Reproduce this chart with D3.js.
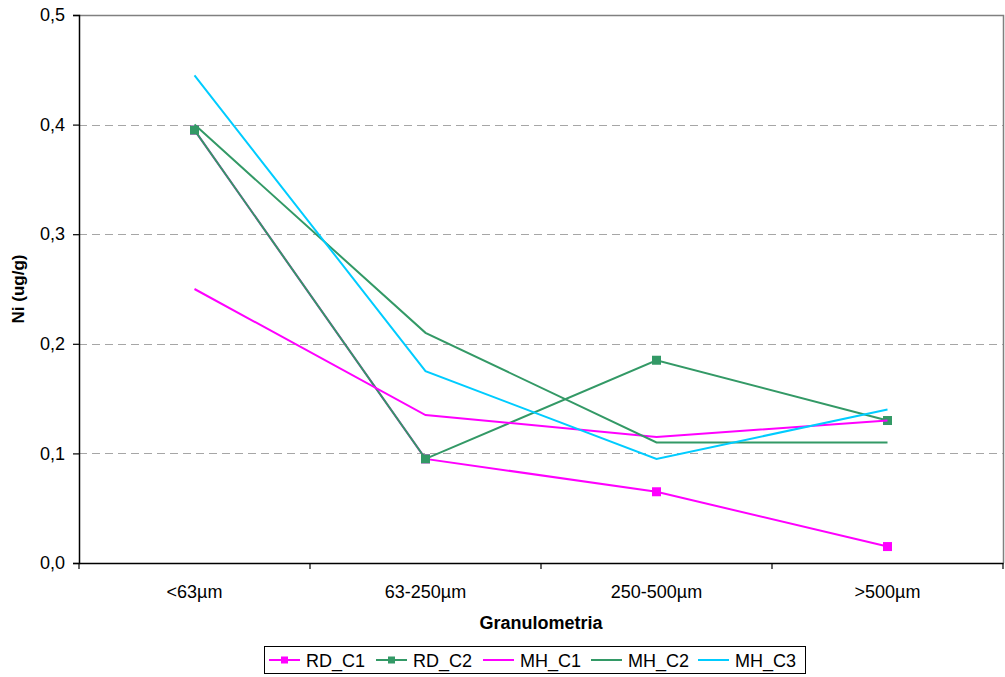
<!DOCTYPE html>
<html>
<head>
<meta charset="utf-8">
<script src="https://cdn.jsdelivr.net/npm/d3@7"></script>
<style>
  html, body { margin: 0; padding: 0; background: #fff; }
  svg { display: block; font-family: "Liberation Sans", Arial, sans-serif; }
</style>
</head>
<body>
<svg id="chart" width="1005" height="677"></svg>
<script>
const categories = ["<63µm", "63-250µm", "250-500µm", ">500µm"];
const yTicks = [0, 0.1, 0.2, 0.3, 0.4, 0.5];
const seriesNames = ["RD_C1", "RD_C2", "MH_C1", "MH_C2", "MH_C3"];
const seriesColors = ["#ff00ff", "#339966", "#ff00ff", "#339966", "#00ccff"];
const seriesMarkers = [true, true, false, false, false];
const RD_C1 = [0.395, 0.095, 0.065, 0.015];
const RD_C2 = [0.395, 0.095, 0.185, 0.13];
const MH_C1 = [0.25, 0.135, 0.115, 0.13];
const MH_C2 = [0.40, 0.21, 0.11, 0.11];
const MH_C3 = [0.445, 0.175, 0.095, 0.14];
const seriesValues = [RD_C1, RD_C2, MH_C1, MH_C2, MH_C3];

const svg = d3.select("#chart");
const L = 79, T = 15, R = 1003, B = 563;

const x = d3.scaleBand().domain(categories).range([L, R]).padding(0);
const y = d3.scaleLinear().domain([0, 0.5]).range([B, T]);
const cx = d => x(d) + x.bandwidth() / 2;

// gridlines
svg.append("g").selectAll("line")
  .data(yTicks.filter(t => t > 0 && t < 0.5))
  .join("line")
  .attr("x1", L).attr("x2", R)
  .attr("y1", d => Math.round(y(d)) + 0.5).attr("y2", d => Math.round(y(d)) + 0.5)
  .attr("stroke", "#a6a6a6").attr("stroke-width", 1)
  .attr("stroke-dasharray", "8,5");

// plot border top/right
svg.append("path")
  .attr("d", `M${L},${T + 0.5}H${R + 0.5}V${B}`)
  .attr("fill", "none").attr("stroke", "#808080").attr("stroke-width", 1.5);

// y axis
const yAxis = d3.axisLeft(y).tickValues(yTicks).tickSize(6).tickPadding(8)
  .tickFormat(d => d3.format(".1f")(d).replace(".", ","));
const gy = svg.append("g").attr("transform", `translate(${L},0)`).call(yAxis);
gy.select(".domain").attr("stroke", "#000").attr("stroke-width", 1.5);
gy.selectAll(".tick line").attr("stroke", "#000").attr("stroke-width", 1.2);
gy.selectAll(".tick text").attr("font-size", 18).attr("fill", "#000")
  .attr("font-family", "'Liberation Sans', Arial, sans-serif");

// x axis
const xAxis = d3.axisBottom(x).tickSize(0).tickPadding(22);
const gx = svg.append("g").attr("transform", `translate(0,${B})`).call(xAxis);
gx.select(".domain").attr("stroke", "#000").attr("stroke-width", 1.5);
gx.selectAll(".tick text").attr("font-size", 18).attr("fill", "#000")
  .attr("font-family", "'Liberation Sans', Arial, sans-serif");
// boundary ticks
const bounds = categories.map(c => x(c)).concat([x(categories[categories.length - 1]) + x.bandwidth()]);
gx.selectAll(".btick").data(bounds).join("line")
  .attr("x1", d => d).attr("x2", d => d).attr("y1", 0).attr("y2", 6)
  .attr("stroke", "#000").attr("stroke-width", 1.2);

// titles
svg.append("text").attr("x", (L + R) / 2).attr("y", 629)
  .attr("text-anchor", "middle").attr("font-size", 18).attr("font-weight", "bold")
  .text("Granulometria");
svg.append("text").attr("transform", "translate(24,289) rotate(-90)")
  .attr("text-anchor", "middle").attr("font-size", 17).attr("font-weight", "bold")
  .text("Ni (ug/g)");

// series
const line = d3.line().x((d, i) => cx(categories[i])).y(d => y(d));
seriesNames.forEach((name, si) => {
  svg.append("path").datum(seriesValues[si])
    .attr("d", line).attr("fill", "none")
    .attr("stroke", seriesColors[si]).attr("stroke-width", 2);
  if (seriesMarkers[si]) {
    svg.append("g").selectAll("rect").data(seriesValues[si]).join("rect")
      .attr("x", (d, i) => cx(categories[i]) - 4.5)
      .attr("y", d => y(d) - 4.5)
      .attr("width", 9).attr("height", 9)
      .attr("fill", seriesColors[si]);
  }
});

// legend
const lg = svg.append("g");
lg.append("rect").attr("x", 264.5).attr("y", 646.5).attr("width", 541).attr("height", 27)
  .attr("fill", "#fff").attr("stroke", "#000").attr("stroke-width", 1);
const legLineX = [269, 376, 483, 591, 698];
seriesNames.forEach((name, si) => {
  const x0 = legLineX[si];
  lg.append("line").attr("x1", x0).attr("x2", x0 + 31).attr("y1", 660).attr("y2", 660)
    .attr("stroke", seriesColors[si]).attr("stroke-width", 2);
  if (seriesMarkers[si]) {
    lg.append("rect").attr("x", x0 + 15.5 - 3.5).attr("y", 656.5).attr("width", 7).attr("height", 7)
      .attr("fill", seriesColors[si]);
  }
  lg.append("text").attr("x", x0 + 37).attr("y", 666.5).attr("font-size", 18).attr("fill", "#000")
    .text(name);
});
</script>
</body>
</html>
